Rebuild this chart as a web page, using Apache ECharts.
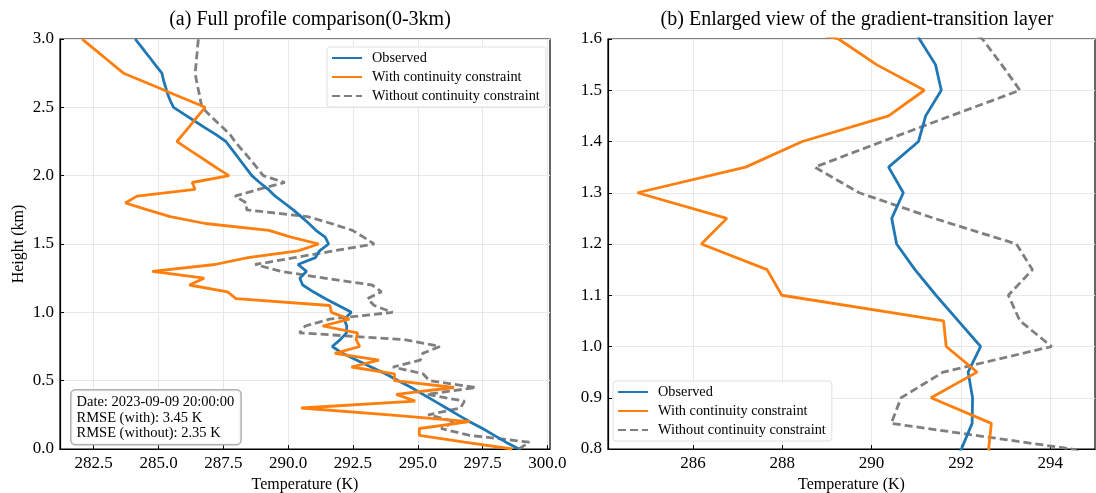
<!DOCTYPE html>
<html>
<head>
<meta charset="utf-8">
<script src="https://cdn.jsdelivr.net/npm/echarts@6/dist/echarts.min.js"></script>
<style>html,body{margin:0;padding:0;background:#fff}#c{width:1096px;height:493px}</style>
</head>
<body>
<div id="c"></div>
<script>
// Heights (km)
const heights = [0.00,0.05,0.10,0.15,0.20,0.25,0.30,0.35,0.40,0.45,0.50,0.55,0.60,0.65,0.70,0.75,0.80,0.85,0.90,0.95,
1.00,1.05,1.10,1.15,1.20,1.25,1.30,1.35,1.40,1.45,1.50,1.55,1.60,1.65,1.70,1.75,1.80,1.85,1.90,1.95,
2.00,2.05,2.10,2.15,2.20,2.25,2.30,2.35,2.40,2.45,2.50,2.55,2.60,2.65,2.70,2.75,2.80,2.85,2.90,2.95,3.00];
// Observed temperature (K)
const observed = [298.9,298.4,297.95,297.5,297.0,296.55,296.1,295.65,295.2,294.75,294.25,293.75,293.2,292.65,292.1,291.7,292.01,292.25,292.26,292.16,
292.44,291.94,291.44,290.97,290.56,290.45,290.71,290.38,291.05,291.21,291.56,291.43,291.07,290.8,290.5,290.2,289.85,289.5,289.23,288.9,
288.6,288.4,288.2,288.0,287.8,287.6,287.22,286.8,286.39,285.98,285.58,285.45,285.35,285.27,285.19,285.13,284.92,284.72,284.51,284.31,284.10];
// With continuity constraint (K)
const withCons = [298.65,296.8,295.06,295.06,297.0,293.9,290.5,294.9,294.17,296.4,294.1,294.1,292.44,293.5,291.8,292.76,292.62,292.68,291.33,292.36,
291.67,291.61,287.99,287.66,286.19,286.76,284.76,287.18,288.45,290.38,291.18,290.11,289.26,286.8,285.45,284.58,283.72,284.17,286.41,286.3,
287.72,287.3,286.9,286.5,286.1,285.71,285.93,286.15,286.36,286.58,286.8,286.17,285.54,284.91,284.28,283.65,283.33,283.01,282.69,282.37,282.05];
// Without continuity constraint (K)
const withoutCons = [298.9,299.3,297.0,295.9,296.45,295.4,296.65,296.8,295.35,297.25,295.45,295.2,294.04,295.1,295.19,295.85,294.48,290.44,290.66,291.6,
294.03,293.32,293.06,293.6,293.24,291.4,289.72,288.73,290.24,291.77,293.32,292.91,292.48,291.66,290.75,288.4,288.4,287.95,288.85,289.87,
289.04,288.83,288.62,288.4,288.17,287.95,287.76,287.49,287.21,286.94,286.67,286.62,286.57,286.51,286.46,286.41,286.44,286.46,286.49,286.51,286.54];

const xTicksA = [282.5,285.0,287.5,290.0,292.5,295.0,297.5,300.0];
const xTicksB = [286,288,290,292,294];
const yTicksA = [0.0,0.5,1.0,1.5,2.0,2.5,3.0];
const yTicksB = [0.8,0.9,1.0,1.1,1.2,1.3,1.4,1.5,1.6];
const names = ['Observed','With continuity constraint','Without continuity constraint'];

const FONT = 'Liberation Serif';
const pair = arr => heights.map((h,i)=>[arr[i],h]);

function xAxis(idx, min, max, ticks, dec){
  return {type:'value', gridIndex:idx, min:min, max:max,
    name:'Temperature (K)', nameLocation:'middle', nameGap:25,
    nameTextStyle:{fontFamily:FONT,fontSize:16,color:'#000'},
    axisLine:{show:true,onZero:false,lineStyle:{color:'#000',width:1.2}},
    axisTick:{show:true,inside:true,length:4,customValues:ticks,lineStyle:{color:'#000'}},
    axisLabel:{customValues:ticks,fontFamily:FONT,fontSize:17,color:'#000',margin:6,formatter:v=>Number(v).toFixed(dec)},
    splitLine:{show:true,lineStyle:{color:'#e8e8e8',width:1}}};
}
function yAxis(idx, min, max, ticks, withName){
  return {type:'value', gridIndex:idx, min:min, max:max,
    name: withName?'Height (km)':'', nameLocation:'middle', nameGap:33, nameRotate:90,
    nameTextStyle:{fontFamily:FONT,fontSize:16,color:'#000'},
    axisLine:{show:true,onZero:false,lineStyle:{color:'#000',width:1.2}},
    axisTick:{show:true,inside:true,length:4,customValues:ticks,lineStyle:{color:'#000'}},
    axisLabel:{customValues:ticks,fontFamily:FONT,fontSize:17,color:'#000',margin:6,formatter:v=>Number(v).toFixed(1)},
    splitLine:{show:true,lineStyle:{color:'#e8e8e8',width:1}}};
}
function series(idx){
  const base = {type:'line', xAxisIndex:idx, yAxisIndex:idx, symbol:'none', showSymbol:false, clip:true, animation:false};
  return [
    Object.assign({}, base, {name:names[0], data:pair(observed), lineStyle:{color:'#1f77b4',width:2.8}, itemStyle:{color:'#1f77b4'}, z:3}),
    Object.assign({}, base, {name:names[1], data:pair(withCons), lineStyle:{color:'#ff7f0e',width:2.8}, itemStyle:{color:'#ff7f0e'}, z:4}),
    Object.assign({}, base, {name:names[2], data:pair(withoutCons), lineStyle:{color:'#7f7f7f',width:2.8,type:[8,4]}, itemStyle:{color:'#7f7f7f'}, z:2})
  ];
}
const legendCommon = {orient:'vertical', itemWidth:30, itemHeight:14, itemGap:5, data:names,
  itemStyle:{opacity:0},
  textStyle:{fontFamily:FONT,fontSize:14.3,color:'#000',padding:[0,0,0,5]}, backgroundColor:'rgba(255,255,255,0.85)',
  borderColor:'#e0e0e0', borderWidth:1, borderRadius:3, padding:[4,6,4,4], selectedMode:false};

const chart = echarts.init(document.getElementById('c'), null, {renderer:'canvas'});
chart.setOption({
  animation:false,
  backgroundColor:'#fff',
  title:[
    {text:'(a) Full profile comparison(0-3km)', left:305, top:5, textAlign:'center', textStyle:{fontFamily:FONT,fontSize:20,fontWeight:'normal',color:'#000'}},
    {text:'(b) Enlarged view of the gradient-transition layer', left:852, top:5, textAlign:'center', textStyle:{fontFamily:FONT,fontSize:20,fontWeight:'normal',color:'#000'}}
  ],
  grid:[
    {left:60, top:39, width:490, height:410, show:true, borderColor:'#000', borderWidth:1.2, backgroundColor:'transparent', containLabel:false, outerBoundsMode:'none'},
    {left:608, top:39, width:487, height:410, show:true, borderColor:'#000', borderWidth:1.2, backgroundColor:'transparent', containLabel:false, outerBoundsMode:'none'}
  ],
  xAxis:[xAxis(0,281.2,300.1,xTicksA,1), xAxis(1,284.1,295.0,xTicksB,0)],
  yAxis:[yAxis(0,0,3,yTicksA,true), yAxis(1,0.8,1.6,yTicksB,false)],
  legend:[
    Object.assign({}, legendCommon, {left:327, top:47}),
    Object.assign({}, legendCommon, {left:613, top:381})
  ],
  series: series(0).concat(series(1)),
  graphic:[{type:'text', left:70, top:389, z:100,
    style:{text:'Date: 2023-09-09 20:00:00\nRMSE (with): 3.45 K\nRMSE (without): 2.35 K',
      font:'14.5px "Liberation Serif"', fill:'#000', lineHeight:15.5,
      backgroundColor:'rgba(255,255,255,0.9)', borderColor:'#b0b0b0', borderWidth:1.5, borderRadius:4, padding:[4,6,3,5]}}]
});
</script>
</body>
</html>
